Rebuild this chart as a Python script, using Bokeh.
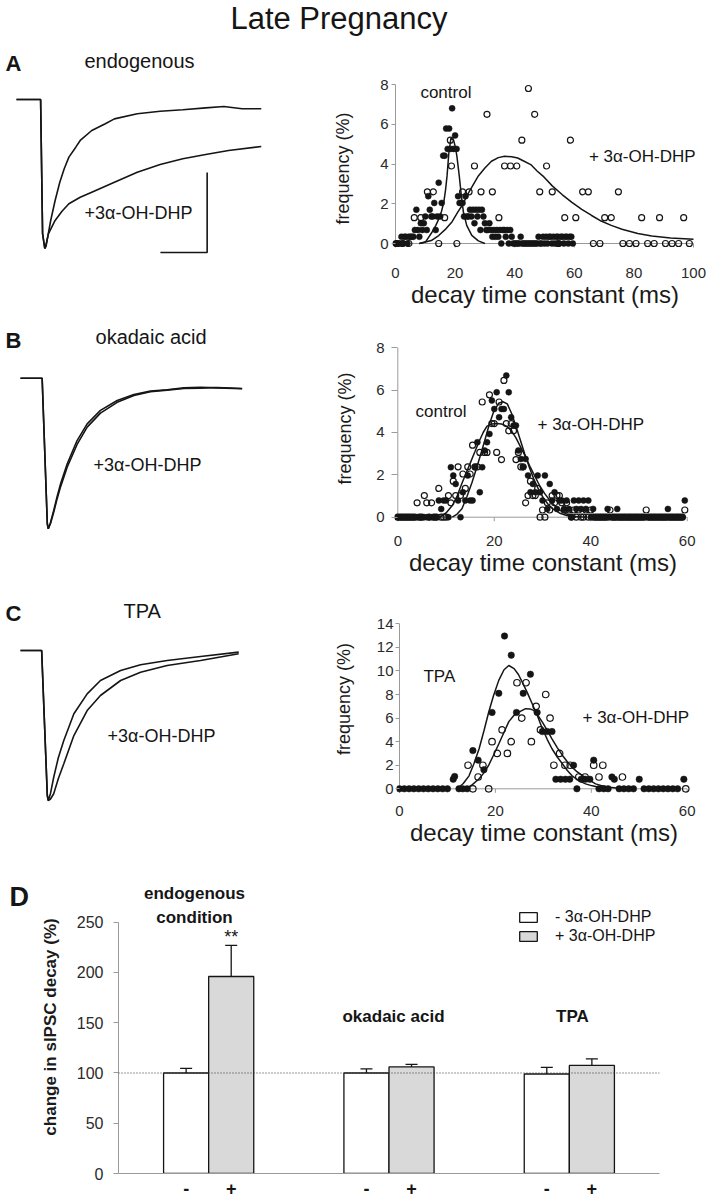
from bokeh.plotting import figure
from bokeh.layouts import column, row
from bokeh.models import (Range1d, Label, Span, FixedTicker, Legend, LegendItem,
                          Whisker, TeeHead, ColumnDataSource)
from bokeh.core.properties import value
from bokeh.embed import file_html
from bokeh.resources import INLINE

FONT = "Liberation Sans"
INK = "#151515"
GREY = "#9a9a9a"

# ---------------- data: example traces (time ms, normalized current) ----------------
TRACE_A_MS_FAST = [0, 9.8, 10.6, 11.5, 12.0, 12.6, 13.9, 15.7, 17.6, 19.4, 21.3, 24.1, 25.9, 30.6, 36.1,
                   39.8, 49.1, 58.4, 67.6, 76.9, 84.3, 91.7, 99.5]
TRACE_A_AMP_FAST = [0, 0, -0.90, -1.0, -0.985, -0.93, -0.812, -0.678, -0.555, -0.465, -0.387, -0.32, -0.275,
                    -0.208, -0.163, -0.130, -0.096, -0.079, -0.069, -0.056, -0.047, -0.062, -0.062]
TRACE_A_MS_SLOW = [0, 9.8, 10.6, 11.5, 12.2, 13.0, 15.7, 18.5, 21.3, 25.9, 30.6, 39.8, 49.1, 58.4, 67.6,
                   76.9, 86.2, 99.5]
TRACE_A_AMP_SLOW = [0, 0, -0.90, -1.0, -0.96, -0.90, -0.812, -0.75, -0.70, -0.656, -0.622, -0.555, -0.488,
                    -0.436, -0.398, -0.369, -0.342, -0.315]

TRACE_B_MS = [0, 8.1, 8.8, 10.9, 11.3, 12.2, 13.5, 14.9, 16.3, 19.0, 23.0, 27.1, 32.5, 39.3, 46.1, 52.8,
              59.6, 66.4, 73.2, 80.0, 90.1]
TRACE_B_AMP_CTRL = [0, 0, 0, -0.967, -1.0, -0.958, -0.878, -0.786, -0.701, -0.568, -0.414, -0.303, -0.214,
                    -0.148, -0.108, -0.086, -0.077, -0.064, -0.060, -0.064, -0.070]
TRACE_B_AMP_DHP = [0, 0, 0, -0.967, -1.0, -0.965, -0.89, -0.80, -0.72, -0.59, -0.44, -0.325, -0.232,
                   -0.160, -0.115, -0.090, -0.079, -0.068, -0.066, -0.062, -0.068]

TRACE_C_MS = [0, 8.6, 10.9, 11.3, 12.2, 13.5, 15.4, 17.6, 21.7, 27.1, 32.5, 40.7, 48.8, 59.6, 73.2, 88.7]
TRACE_C_AMP_CTRL = [0, 0, -0.967, -1.0, -0.953, -0.845, -0.713, -0.60, -0.422, -0.289, -0.20, -0.133,
                    -0.095, -0.067, -0.040, -0.011]
TRACE_C_AMP_DHP = [0, 0, -0.967, -1.0, -0.99, -0.955, -0.853, -0.755, -0.567, -0.40, -0.30, -0.20,
                   -0.145, -0.10, -0.067, -0.022]

SCALE_MS = 19.0
SCALE_AMP = 0.537

# ---------------- data: decay-time histograms ----------------
MS_05 = [0.0, 0.5, 1.0, 1.5, 2.0, 2.5, 3.0, 3.5, 4.0, 4.5,
         5.0, 5.5, 6.0, 6.5, 7.0, 7.5, 8.0, 8.5, 9.0, 9.5,
         10.0, 10.5, 11.0, 11.5, 12.0, 12.5, 13.0, 13.5, 14.0, 14.5,
         15.0, 15.5, 16.0, 16.5, 17.0, 17.5, 18.0, 18.5, 19.0, 19.5,
         20.0, 20.5, 21.0, 21.5, 22.0, 22.5, 23.0, 23.5, 24.0, 24.5,
         25.0, 25.5, 26.0, 26.5, 27.0, 27.5, 28.0, 28.5, 29.0, 29.5,
         30.0, 30.5, 31.0, 31.5, 32.0, 32.5, 33.0, 33.5, 34.0, 34.5,
         35.0, 35.5, 36.0, 36.5, 37.0, 37.5, 38.0, 38.5, 39.0, 39.5,
         40.0, 40.5, 41.0, 41.5, 42.0, 42.5, 43.0, 43.5, 44.0, 44.5,
         45.0, 45.5, 46.0, 46.5, 47.0, 47.5, 48.0, 48.5, 49.0, 49.5,
         50.0, 50.5, 51.0, 51.5, 52.0, 52.5, 53.0, 53.5, 54.0, 54.5,
         55.0, 55.5, 56.0, 56.5, 57.0, 57.5, 58.0, 58.5, 59.0, 59.5]

A_CTRL_FREQ = [0, 0, 0, 0, 0.34, 0, 0.34, 0.34, 0, 0.34,
               0.34, 0.34, 0.34, 0.68, 1.7, 0.68, 0.34, 1.02, 0.68, 1.02,
               1.36, 0.68, 2.38, 1.7, 1.36, 1.36, 2.04, 0.68, 1.36, 3.06,
               1.36, 2.04, 4.42, 4.42, 5.78, 4.76, 5.78, 4.76, 6.8, 4.76,
               5.44, 4.76, 2.38, 2.04, 2.04, 2.04, 1.36, 2.38, 1.36, 1.36,
               1.7, 1.36, 1.7, 1.02, 1.7, 1.36, 1.7, 0.68, 1.7, 1.36,
               1.02, 0.68, 0.68, 1.02, 0.68, 0.34, 0.68, 0.34, 0.68, 0.34,
               0.68, 0, 0.68, 0.68, 0.34, 0.68, 0, 0.68, 0.34, 0,
               0, 0, 0, 0, 0.34, 0, 0, 0, 0, 0,
               0, 0, 0, 0, 0, 0, 0.34, 0, 0, 0.34,
               0, 0.34, 0, 0.34, 0.34, 0, 0.34, 0, 0.34, 0.34,
               0, 0.34, 0.34, 0, 0.34, 0.34, 0, 0.34, 0.34, 0]

A_DHP_MS = [0.4, 2.5, 4.5, 6.3, 8.5, 10.7, 12.7, 14.5, 16.5, 18.4, 18.8, 20.6, 22.5, 24.7, 26.5, 28.7,
            30.7, 32.5, 34.7, 36.6, 38.6, 40.7, 42.4, 44.6, 46.7, 48.4, 50.7, 52.6, 54.6, 56.8, 58.7,
            60.5, 62.8, 64.7, 66.4, 68.6, 70.2, 72.4, 74.8, 76.3, 78.5, 80.7, 82.6, 84.6, 86.8, 88.6,
            90.6, 92.8, 95.0, 96.7, 98.6]
A_DHP_FREQ = [0, 0, 0, 1.3, 1.3, 2.6, 2.6, 0, 1.3, 5.2, 3.9, 0, 2.6, 2.6, 3.9, 2.6,
              6.5, 2.6, 1.3, 3.9, 3.9, 3.9, 5.2, 7.8, 6.5, 2.6, 3.9, 2.6, 0, 1.3, 5.2,
              1.3, 2.6, 2.6, 0, 0, 1.3, 1.3, 2.6, 0, 0, 0, 1.3, 0, 0, 1.3,
              0, 0, 0, 1.3, 0]

B_OPEN_FREQ = [0, 0, 0, 0, 0, 0, 0, 0, 0.68, 0,
               0, 1.02, 0.68, 0, 0.68, 0, 0, 1.36, 0, 0,
               0, 1.02, 0.68, 1.7, 1.02, 2.38, 1.02, 2.04, 1.36, 2.38,
               2.04, 3.4, 2.38, 2.38, 3.06, 5.44, 3.06, 3.06, 5.78, 4.42,
               4.42, 3.06, 5.44, 2.72, 6.46, 4.42, 4.08, 4.42, 4.08, 2.72,
               3.06, 2.38, 2.38, 0.68, 1.02, 1.7, 1.02, 1.02, 1.36, 0,
               0.34, 0, 0.68, 0.34, 1.02, 0.68, 1.02, 1.02, 0.68, 0.34,
               0.68, 0.34, 0, 0.34, 0, 0.34, 0, 0, 0.34, 0,
               0.34, 0, 0, 0, 0, 0, 0, 0, 0.34, 0,
               0, 0, 0, 0, 0, 0, 0, 0, 0, 0,
               0, 0, 0, 0.34, 0, 0, 0, 0, 0, 0,
               0, 0, 0, 0, 0, 0, 0, 0, 0, 0.34]
B_FILL_FREQ = [0, 0, 0, 0, 0, 0, 0, 0, 0, 0,
               0, 0, 0, 0, 0, 0, 0, 0.79, 0.39, 0.79,
               0.79, 0, 2.36, 1.97, 1.57, 0.79, 0, 1.18, 0.79, 1.97,
               0.79, 0.79, 2.36, 3.54, 1.18, 2.36, 3.15, 3.54, 3.93, 5.51,
               5.11, 5.9, 4.72, 5.11, 5.11, 6.69, 5.9, 4.72, 4.33, 4.33,
               3.15, 2.75, 2.36, 2.75, 1.97, 1.18, 1.57, 1.18, 1.97, 1.18,
               0.79, 1.97, 0.39, 1.57, 0.79, 1.18, 0.39, 0.79, 0.79, 0.39,
               0.79, 0.39, 0, 0.79, 0.39, 0.79, 0.39, 0.79, 0.39, 0.79,
               0, 0.39, 0, 0, 0, 0, 0, 0.39, 0, 0,
               0, 0.39, 0, 0, 0, 0, 0, 0, 0, 0,
               0, 0, 0, 0, 0, 0, 0, 0, 0, 0,
               0, 0, 0.39, 0, 0, 0, 0, 0, 0, 0.79]

C_TPA_MS = [0, 1, 2, 3, 4, 5, 6, 7, 8, 9, 10, 11.2, 11.5, 12.4, 13.2, 14.1, 15.3, 16.4, 17.6, 19.3,
            20.7, 21.9, 23.3, 24.4, 25.8, 27.3, 28.7, 29.8, 30.8, 31.8, 32.6, 33.6, 34.6, 35.5, 36.3,
            37.0, 37.9, 38.8, 39.7, 40.5, 41.6, 42.6, 43.5, 44.3, 44.8, 45.8, 46.8, 47.8, 48.8, 50.0,
            51, 52, 53, 54, 55, 56, 57, 58, 59.3]
C_TPA_FREQ = [0, 0, 0, 0, 0, 0, 0, 0, 0, 0, 0, 0.81, 1.05, 0, 0, 0, 3.24, 2.43, 1.62, 6.48,
              8.1, 12.96, 11.34, 6.48, 8.1, 9.72, 6.48, 4.86, 4.86, 4.86, 0.81, 0.81, 0.81, 0.81, 2.0,
              0, 0.81, 0.81, 0.81, 2.43, 0, 0, 0, 1.0, 0.81, 0, 0, 0, 0, 0.81,
              0, 0, 0, 0, 0, 0, 0, 0, 0.81]
C_DHP_MS = [14.3, 15.3, 16.4, 17.4, 18.6, 19.3, 20.4, 21.4, 22.5, 23.3, 24.5, 25.5, 26.4, 27.5, 28.5,
            29.4, 30.5, 31.4, 32.2, 33.4, 34.5, 35.6, 37.4, 38.7, 40.5, 41.6, 42.4, 46.5, 59.7]
C_DHP_FREQ = [2, 0, 1, 2, 0, 4, 3, 5, 3, 4, 9, 6, 9, 4, 7,
              5, 8, 6, 2, 3, 2, 2, 1, 1, 2, 1, 2, 1, 0]

# fitted curves
FIT_A_CTRL_MS = [8, 10.1, 12.3, 13.5, 14.55, 15.4, 16.2, 16.8, 17.3, 17.9, 18.6, 19.5, 20.1, 20.6, 21.4,
                 22.1, 22.8, 23.9, 25.6, 27.8, 30]
FIT_A_CTRL = [0, 0.08, 0.58, 0.9, 1.24, 1.6, 2.07, 2.7, 3.4, 4.55, 5.3, 5.2, 4.85, 4.4, 3.4,
              2.4, 1.57, 0.91, 0.41, 0.13, 0]
FIT_A_DHP_MS = [8, 12, 14.5, 17, 19, 21, 22.3, 24.5, 27.8, 30, 32.2, 34.5, 36.6, 39, 41, 43, 45.4, 47.5,
                49.8, 52.6, 56, 59.2, 62.5, 65.8, 69, 72.4, 76, 81.3, 86, 92.3, 100]
FIT_A_DHP = [0, 0.15, 0.4, 0.75, 1.1, 1.6, 1.9, 2.55, 3.4, 3.8, 4.14, 4.32, 4.39, 4.36, 4.3, 4.15, 3.97,
             3.65, 3.35, 2.9, 2.45, 2.07, 1.72, 1.41, 1.13, 0.91, 0.72, 0.5, 0.38, 0.28, 0.22]
FIT_B_1_MS = [8.8, 10, 11.3, 12.3, 13.3, 14.2, 15.1, 16, 16.8, 17.7, 18.5, 19.5, 20.5, 21.5, 22.5, 23.5,
              24.5, 25.5, 26.5, 27.5, 28.5, 29.5, 30.5, 31.5, 32.5, 33.5, 35, 37, 39]
FIT_B_1 = [0, 0.2, 0.55, 1.0, 1.6, 2.1, 2.6, 3.1, 3.55, 4.0, 4.3, 4.4, 4.42, 4.4, 4.3, 4.1,
           3.75, 3.3, 2.85, 2.35, 1.9, 1.45, 1.1, 0.8, 0.55, 0.35, 0.15, 0.03, 0]
FIT_B_2_MS = [11.3, 12.3, 13.3, 14.3, 15.4, 16.3, 17.1, 18, 18.9, 19.9, 20.9, 21.8, 22.7, 23.6, 24.5,
              25.4, 26.3, 27.2, 28.2, 29.2, 30.2, 31.2, 32.2, 33.5, 35, 37]
FIT_B_2 = [0, 0.15, 0.4, 0.95, 1.65, 2.3, 2.9, 3.6, 4.33, 5.0, 5.38, 5.45, 5.35, 4.9, 4.3,
           3.65, 3.0, 2.4, 1.8, 1.3, 0.9, 0.6, 0.38, 0.2, 0.08, 0]
FIT_C_TPA_MS = [12, 13.3, 14.5, 15.5, 16.6, 17.6, 18.6, 19.6, 20.7, 21.8, 22.8, 23.9, 24.8, 25.6, 26.6,
                27.7, 28.8, 29.8, 30.8, 31.8, 32.9, 34, 35, 36, 37.4, 38.8, 40.2, 41.6, 43]
FIT_C_TPA = [0, 0.45, 1.1, 2.1, 3.4, 4.9, 6.5, 7.9, 9.2, 10.1, 10.46, 10.2, 9.7, 9.05, 8.2,
             7.2, 6.15, 5.1, 4.2, 3.4, 2.7, 2.1, 1.55, 1.1, 0.7, 0.42, 0.25, 0.14, 0.05]
FIT_C_DHP_MS = [13.8, 15.2, 16.6, 17.6, 18.6, 19.6, 20.7, 21.8, 22.8, 23.8, 24.9, 26.3, 27.2, 28, 28.9,
                29.8, 30.8, 31.8, 32.9, 34, 35, 36, 37, 38.1, 39.5, 40.9, 42.3, 43.7, 45.8]
FIT_C_DHP = [0, 0.35, 0.85, 1.35, 2.0, 2.85, 3.8, 4.8, 5.7, 6.2, 6.5, 6.8, 6.78, 6.65, 6.2,
             5.66, 4.95, 4.24, 3.5, 2.83, 2.3, 1.84, 1.45, 1.13, 0.75, 0.42, 0.25, 0.14, 0.05]

# ---------------- data: panel D ----------------
CONDITIONS = ["endogenous condition", "okadaic acid", "TPA"]
MINUS_MEAN = [100, 100, 99]
MINUS_ERR = [4.5, 4, 6.5]
PLUS_MEAN = [196, 106, 107.5]
PLUS_ERR = [31, 2.5, 6.5]
D_YTICKS = [0, 50, 100, 150, 200, 250]


# ---------------- helpers ----------------
def bare(w, h, xr, yr, mbt=0, mbb=0):
    p = figure(width=w, height=h, title=None,
               x_range=Range1d(*xr), y_range=Range1d(*yr),
               output_backend="svg", toolbar_location=None,
               x_axis_location=None, y_axis_location=None,
               min_border_left=0, min_border_right=0, min_border_top=mbt, min_border_bottom=mbb)
    p.grid.visible = False
    p.outline_line_color = None
    return p


def lab(p, x, y, text, size, ppu, style="normal", align="left", color=INK):
    # y is the wanted baseline (data units); lift compensates the renderer's text anchoring
    lift = 0.33 * size / ppu
    p.add_layout(Label(x=x, y=y + lift, x_units="data", y_units="data", text=text, text_font=FONT,
                       text_font_size=f"{size}px", text_font_style=style, text_align=align,
                       text_baseline="alphabetic", text_color=color))


def hist_fig(h, xr, yr, mbl, mbr, mbt, mbb, xt, yt, tick_len, ytick_out, ystand, ylab_stand, xstand):
    p = figure(width=384, height=h, x_range=Range1d(*xr), y_range=Range1d(*yr), title=None,
               output_backend="svg", toolbar_location=None,
               min_border_left=mbl, min_border_right=mbr, min_border_top=mbt, min_border_bottom=mbb)
    p.grid.visible = False
    p.outline_line_color = None
    p.xaxis.ticker = FixedTicker(ticks=xt)
    p.yaxis.ticker = FixedTicker(ticks=yt)
    for ax in (p.xaxis[0], p.yaxis[0]):
        ax.axis_line_color = None
        ax.minor_tick_line_color = None
        ax.major_label_text_font = FONT
        ax.major_label_text_font_size = "15px"
        ax.major_label_text_color = "#2a2a2a"
        ax.axis_label_text_font = FONT
        ax.axis_label_text_font_style = "normal"
        ax.axis_label_text_color = "#1a1a1a"
    p.xaxis.major_tick_line_color = None
    p.xaxis.major_tick_in = 0
    p.xaxis.major_tick_out = 0
    p.xaxis.major_label_standoff = xstand
    p.xaxis.axis_label = "decay time constant (ms)"
    p.xaxis.axis_label_text_font_size = "24px"
    p.xaxis.axis_label_standoff = 0
    p.yaxis.major_tick_line_color = GREY
    p.yaxis.major_tick_in = 3
    p.yaxis.major_tick_out = ytick_out
    p.yaxis.major_label_standoff = ystand
    p.yaxis.axis_label = "frequency (%)"
    p.yaxis.axis_label_text_font_size = "18px"
    p.yaxis.axis_label_standoff = ylab_stand
    # axis lines through the origin and downward x tick marks
    p.segment(x0=[0, 0], y0=[0, 0], x1=[xt[-1], 0], y1=[0, yt[-1]], line_color=GREY, line_width=1)
    p.segment(x0=xt, y0=[0] * len(xt), x1=xt, y1=[-tick_len] * len(xt), line_color=GREY, line_width=1)
    return p


def dots(p, xo, yo, xf, yf, size):
    p.scatter(xo, yo, marker="circle", size=size, fill_color="white", fill_alpha=0.0,
              line_color=INK, line_width=1.2)
    p.scatter(xf, yf, marker="circle", size=size, fill_color=INK, line_color=INK, line_width=0.5)


# ---------------- title strip (also carries the panel-A headings) ----------------
title = bare(714, 75, (0, 714), (0, 75))
lab(title, 338.5, 47, "Late Pregnancy", 31, 1.0, align="center")
lab(title, 5, 5, "A", 22, 1.0, "bold")
lab(title, 84, 7.5, "endogenous", 20, 1.0)

# ---------------- row A (frames: top border 5, bottom border 59) ----------------
trA = bare(330, 240, (-6.504, 127.642), (-1.0537, 0.1275), 5, 59)
trA.line(TRACE_A_MS_FAST, TRACE_A_AMP_FAST, line_color=INK, line_width=1.6)
trA.line(TRACE_A_MS_SLOW, TRACE_A_AMP_SLOW, line_color=INK, line_width=1.6)
sb_x, sb_y = 77.5, -1.027
trA.line([sb_x - SCALE_MS, sb_x, sb_x], [sb_y, sb_y, sb_y + SCALE_AMP], line_color=INK, line_width=1.6)
lab(trA, 27.64, -0.799, "+3α-OH-DHP", 18, 149)

hA = hist_fig(240, (-1.0033, 101.338), (-0.654, 8.2013), 61, 17, 5, 59,
              [0, 20, 40, 60, 80, 100], [0, 2, 4, 6, 8], 0.2, 1, 3, 24, 11)
dots(hA, A_DHP_MS, A_DHP_FREQ, MS_05, A_CTRL_FREQ, 6)
hA.line(FIT_A_CTRL_MS, FIT_A_CTRL, line_color=INK, line_width=1.5)
hA.line(FIT_A_DHP_MS, FIT_A_DHP, line_color=INK, line_width=1.5)
lab(hA, 8.36, 7.296, "control", 17, 19.875)
lab(hA, 64.9, 4.075, "+ 3α-OH-DHP", 17, 19.875)

# ---------------- row B (top 10, bottom 49) ----------------
trB = bare(330, 265, (-8.13, 126.016), (-1.018, 0.35), 10, 49)
trB.line(TRACE_B_MS, TRACE_B_AMP_CTRL, line_color=INK, line_width=1.6)
trB.line(TRACE_B_MS, TRACE_B_AMP_DHP, line_color=INK, line_width=1.6)
lab(trB, -6.1, 0.204, "B", 22, 150.6, "bold")
lab(trB, 30.49, 0.230, "okadaic acid", 20, 150.6)
lab(trB, 29.67, -0.613, "+3α-OH-DHP", 18, 150.6)

hB = hist_fig(265, (-0.684, 60.892), (-0.6753, 9.0531), 64, 23, 10, 49,
              [0, 20, 40, 60], [0, 2, 4, 6, 8], 0.19, 3, 7, 18, 4)
dots(hB, MS_05, B_OPEN_FREQ, MS_05, B_FILL_FREQ, 6)
hB.line(FIT_B_1_MS, FIT_B_1, line_color=INK, line_width=1.5)
hB.line(FIT_B_2_MS, FIT_B_2, line_color=INK, line_width=1.5)
lab(hB, 3.67, 4.71, "control", 17, 21.175)
lab(hB, 28.96, 4.09, "+ 3α-OH-DHP", 17, 21.175)

# ---------------- row C (top 15, bottom 48) ----------------
trC = bare(330, 270, (-8.13, 126.016), (-1.0133, 0.3667), 15, 48)
trC.line(TRACE_C_MS, TRACE_C_AMP_CTRL, line_color=INK, line_width=1.6)
trC.line(TRACE_C_MS, TRACE_C_AMP_DHP, line_color=INK, line_width=1.6)
lab(trC, -6.1, 0.2, "C", 22, 150.0, "bold")
lab(trC, 41.87, 0.22, "TPA", 20, 150.0)
lab(trC, 35.37, -0.607, "+3α-OH-DHP", 18, 150.0)

hC = hist_fig(270, (-0.6257, 60.897), (-1.1624, 16.401), 66, 23, 15, 48,
              [0, 20, 40, 60], [0, 2, 4, 6, 8, 10, 12, 14], 0.34, 1, 2, 20, 3)
dots(hC, C_DHP_MS, C_DHP_FREQ, C_TPA_MS, C_TPA_FREQ, 6.5)
hC.line(FIT_C_TPA_MS, FIT_C_TPA, line_color=INK, line_width=1.5)
hC.line(FIT_C_DHP_MS, FIT_C_DHP, line_color=INK, line_width=1.5)
lab(hC, 5.0, 9.02, "TPA", 17, 11.786)
lab(hC, 38.16, 5.54, "+ 3α-OH-DHP", 17, 11.786)

# ---------------- panel D (top 30, bottom 26) ----------------
D_PPU = 1.00515
dlab = bare(30, 349, (0, 30), (0, 291.5), 30, 26)
lab(dlab, 9, 266.6, "D", 27, D_PPU, "bold")

pD = figure(width=684, height=349, x_range=Range1d(2.0, 14.0), y_range=Range1d(0, 291.5), title=None,
            output_backend="svg", toolbar_location=None,
            min_border_left=88, min_border_right=55, min_border_top=30, min_border_bottom=26)
pD.grid.visible = False
pD.outline_line_color = None

centers = [4.0 * (i + 1) for i in range(len(CONDITIONS))]
x_minus = [c - 0.5 for c in centers]
x_plus = [c + 0.5 for c in centers]

r_minus = pD.vbar(x=x_minus, top=MINUS_MEAN, bottom=0, width=1.0, fill_color="white",
                  line_color=INK, line_width=1.3)
r_plus = pD.vbar(x=x_plus, top=PLUS_MEAN, bottom=0, width=1.0, fill_color="#d9d9d9",
                 line_color=INK, line_width=1.3)

for xs, m, e in ((x_minus, MINUS_MEAN, MINUS_ERR), (x_plus, PLUS_MEAN, PLUS_ERR)):
    src = ColumnDataSource(dict(x=xs, lo=[a - b for a, b in zip(m, e)], hi=[a + b for a, b in zip(m, e)]))
    pD.add_layout(Whisker(source=src, base="x", lower="lo", upper="hi", line_color=INK, line_width=1.3,
                          upper_head=TeeHead(size=12, line_color=INK, line_width=1.3),
                          lower_head=TeeHead(size=12, line_color=INK, line_width=1.3)))

pD.add_layout(Span(location=100, dimension="width", line_color="#333333", line_width=1.2, line_dash="1 2"))

pD.yaxis.bounds = (0, 250)
pD.yaxis.ticker = FixedTicker(ticks=D_YTICKS)
pD.yaxis.axis_line_color = GREY
pD.yaxis.major_tick_line_color = GREY
pD.yaxis.minor_tick_line_color = None
pD.yaxis.major_tick_in = 0
pD.yaxis.major_tick_out = 5
pD.yaxis.major_label_standoff = 10
pD.yaxis.major_label_text_font = FONT
pD.yaxis.major_label_text_font_size = "16px"
pD.yaxis.major_label_text_color = "#2a2a2a"
pD.yaxis.axis_label = "change in sIPSC decay (%)"
pD.yaxis.axis_label_text_font = FONT
pD.yaxis.axis_label_text_font_size = "17px"
pD.yaxis.axis_label_text_font_style = "bold"
pD.yaxis.axis_label_text_color = "#1a1a1a"
pD.yaxis.axis_label_standoff = 14

pD.xaxis.ticker = FixedTicker(ticks=x_minus + x_plus)
pD.xaxis.major_label_overrides = {**{x: "-" for x in x_minus}, **{x: "+" for x in x_plus}}
pD.xaxis.axis_line_color = GREY
pD.xaxis.major_tick_line_color = None
pD.xaxis.minor_tick_line_color = None
pD.xaxis.major_label_standoff = 2
pD.xaxis.major_label_text_font = FONT
pD.xaxis.major_label_text_font_size = "18px"
pD.xaxis.major_label_text_font_style = "bold"
pD.xaxis.major_label_text_color = INK

legend = Legend(items=[LegendItem(label=value("- 3α-OH-DHP"), renderers=[r_minus]),
                       LegendItem(label=value("+ 3α-OH-DHP"), renderers=[r_plus])],
                location=(399, 228), orientation="vertical", border_line_color=None,
                background_fill_alpha=0.0, padding=0, margin=0, spacing=1,
                glyph_width=22, glyph_height=12, label_standoff=16, label_height=12,
                label_text_font=FONT, label_text_font_size="16px", label_text_color=INK)
pD.add_layout(legend)

lab(pD, 3.686, 272.6, "endogenous", 17, D_PPU, "bold", align="center")
lab(pD, 3.686, 248.7, "condition", 17, D_PPU, "bold", align="center")
lab(pD, 4.5, 229.8, "**", 18, D_PPU, align="center")
lab(pD, 8.1, 150.2, "okadaic acid", 17, D_PPU, "bold", align="center")
lab(pD, 12.07, 150.2, "TPA", 17, D_PPU, "bold", align="center")

layout = column(row(title), row(trA, hA), row(trB, hB), row(trC, hC), row(dlab, pD))

with open("out.html", "w") as f:
    f.write(file_html(layout, INLINE))
